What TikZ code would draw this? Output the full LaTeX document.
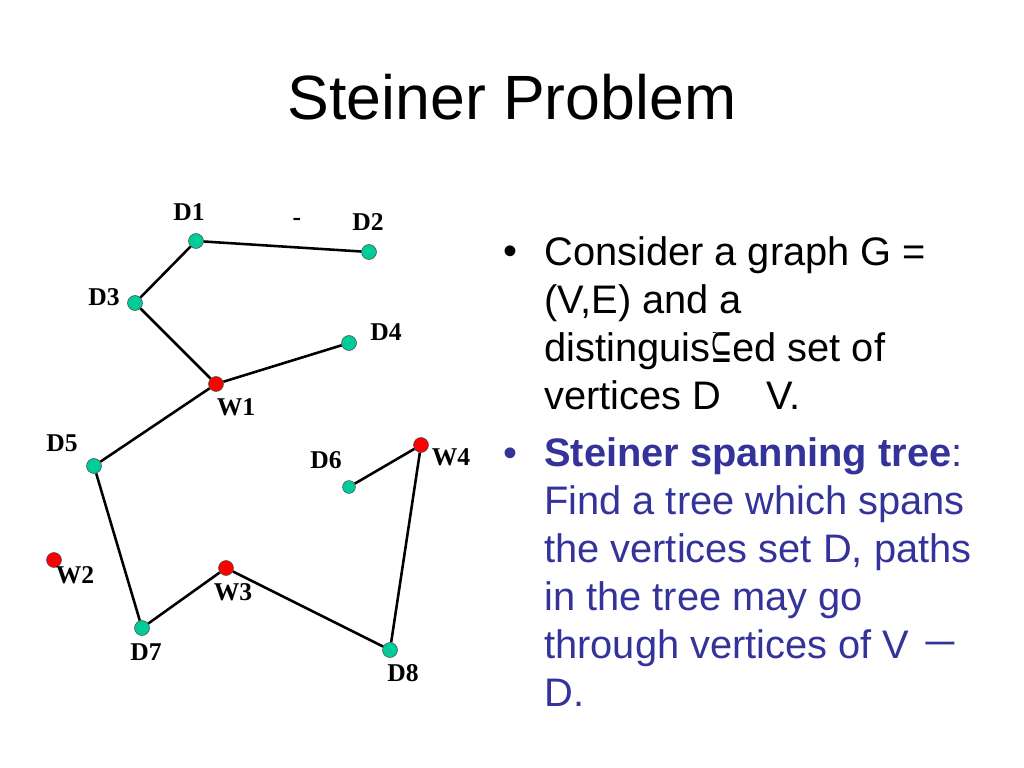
\documentclass[tikz,border=0pt]{standalone}
\usepackage{fontspec}
\usepackage{graphicx}
\setmainfont{Liberation Sans}
\newfontfamily\labelfont{Liberation Serif}
\newfontfamily\subsetfont{DejaVu Sans}
\newfontfamily\cjkfont{Noto Sans CJK SC}
\usepackage{xcolor}
\definecolor{termgreen}{RGB}{0, 204, 153}
\definecolor{steinerred}{RGB}{255, 0, 0}
\definecolor{slideblue}{RGB}{51, 51, 153}

\begin{document}
\begin{tikzpicture}[
    x=0.703125pt, y=-0.703125pt,
    dvert/.style={circle, draw=black!70, line width=0.4pt, fill=termgreen,
                  minimum size=10.5pt, inner sep=0pt},
    wvert/.style={circle, draw=black!70, line width=0.4pt, fill=steinerred,
                  minimum size=10.5pt, inner sep=0pt},
    vlabel/.style={font=\labelfont\bfseries\fontsize{18}{20}\selectfont, inner sep=0pt},
    edge/.style={line width=1.8pt, black},
    bullettext/.style={align=left, anchor=north west, inner sep=0pt,
                  font=\fontsize{28}{33.75}\selectfont}
]
    \useasboundingbox (0,0) rectangle (1024,768);

    % Title
    \node[font=\fontsize{44}{52}\selectfont, anchor=base] (title) at (512,120) {Steiner Problem};

    % Vertices
    \node[dvert] (d1) at (196,241) {};
    \node[dvert] (d2) at (369,252) {};
    \node[dvert] (d3) at (135,303) {};
    \node[dvert] (d4) at (349,343) {};
    \node[wvert] (w1) at (216,384) {};
    \node[dvert] (d5) at (94,466) {};
    \node[dvert, minimum size=9pt] (d6) at (349,487) {};
    \node[wvert] (w4) at (421,445) {};
    \node[wvert] (w2) at (54,560) {};
    \node[wvert] (w3) at (226,568) {};
    \node[dvert] (d7) at (142,628) {};
    \node[dvert] (d8) at (390,650) {};

    % Labels
    \node[vlabel] (ld1) at (189,212) {D1};
    \node[vlabel] (ld2) at (368,222) {D2};
    \node[vlabel] (ld3) at (104,297) {D3};
    \node[vlabel] (ld4) at (386,332) {D4};
    \node[vlabel] (lw1) at (236,407) {W1};
    \node[vlabel] (ld5) at (62,443) {D5};
    \node[vlabel] (ld6) at (326,460) {D6};
    \node[vlabel] (lw4) at (451,457) {W4};
    \node[vlabel] (lw2) at (75,575) {W2};
    \node[vlabel] (lw3) at (233,592) {W3};
    \node[vlabel] (ld7) at (146,652) {D7};
    \node[vlabel] (ld8) at (403,673) {D8};
    \node[vlabel] (dash) at (297,222) {-};

    % Tree edges
    \draw[edge] (d1) -- (d2);
    \draw[edge] (d1) -- (d3);
    \draw[edge] (d3) -- (w1);
    \draw[edge] (w1) -- (d4);
    \draw[edge] (w1) -- (d5);
    \draw[edge] (d5) -- (d7);
    \draw[edge] (d7) -- (w3);
    \draw[edge] (w3) -- (d8);
    \draw[edge] (d8) -- (w4);
    \draw[edge] (w4) -- (d6);

    % Bullets
    \node[font=\fontsize{28}{33.75}\selectfont, anchor=base west, inner sep=0pt] (b1) at (503,265) {\textbullet};
    \node[bullettext] (txt1) at (544,236) {Consider a graph G =\\(V,E) and a\\distinguished set of\\vertices D\hspace{32pt}V.};
    \node[fill=white, inner sep=0pt, minimum width=17.5pt, minimum height=19.5pt] (subset) at (722,348)
        {\scalebox{0.55}[1]{\resizebox*{!}{21pt}{\subsetfont ⊆}}};

    \node[font=\fontsize{28}{33.75}\selectfont, anchor=base west, inner sep=0pt, text=slideblue] (b2) at (503,466) {\textbullet};
    \node[bullettext, text=slideblue] (txt2) at (544,437) {\textbf{Steiner spanning tree}:\\Find a tree which spans\\the vertices set D, paths\\in the tree may go\\through vertices of V {\cjkfont －}\\D.};
\end{tikzpicture}
\end{document}
